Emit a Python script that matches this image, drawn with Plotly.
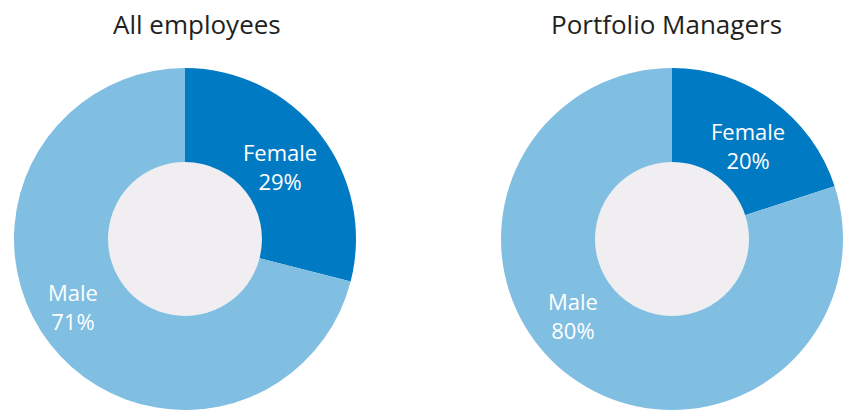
import plotly.graph_objects as go

W, H = 845, 410

titles = ["All employees", "Portfolio Managers"]
labels = ["Female", "Male"]
values_all = [29, 71]
values_pm = [20, 80]
colors = ["#007AC3", "#80BEE2"]
hole_color = "#F0EEF0"

# geometry in reference pixels
R = 171
HOLE = 0.45
centers = [(185, 239), (672, 239)]
title_pos = [(197, 24), (666, 24)]
label_pos = [[(280, 166), (73, 306)], [(748, 145), (573, 315)]]
series = [values_all, values_pm]


def px(x):
    return x / W


def py(y):
    return 1 - y / H


fig = go.Figure()
shapes = []
annotations = []
for (cx, cy), vals, title, tpos, lpos in zip(centers, series, titles, title_pos, label_pos):
    fig.add_trace(go.Pie(
        labels=labels, values=vals, sort=False, direction="clockwise", rotation=0,
        hole=HOLE, domain=dict(x=[px(cx - R), px(cx + R)], y=[max(0, py(cy + R)), py(cy - R)]),
        marker=dict(colors=colors, line=dict(width=0)),
        textinfo="none", hoverinfo="label+value", showlegend=False,
    ))
    rh = R * HOLE
    shapes.append(dict(type="circle", xref="paper", yref="paper", layer="below",
                       x0=px(cx - rh), x1=px(cx + rh), y0=py(cy + rh), y1=py(cy - rh),
                       fillcolor=hole_color, line=dict(width=0)))
    annotations.append(dict(text=title, xref="paper", yref="paper",
                            x=px(tpos[0]), y=py(tpos[1]),
                            xanchor="center", yanchor="middle", showarrow=False,
                            font=dict(family="Open Sans", size=26, color="#231F20")))
    for lab, v, (lx, ly) in zip(labels, vals, lpos):
        annotations.append(dict(text=f"{lab}<br>{v}%", xref="paper", yref="paper",
                                x=px(lx), y=py(ly), xanchor="center", yanchor="middle",
                                showarrow=False, align="center",
                                font=dict(family="Open Sans", size=22, color="white")))

fig.update_layout(width=W, height=H, margin=dict(l=0, r=0, t=0, b=0),
                  paper_bgcolor="white", plot_bgcolor="white",
                  shapes=shapes, annotations=annotations)
fig.write_html("out.html", config={"displayModeBar": False},
               post_script="document.body.style.margin='0';document.body.style.overflow='hidden';")
